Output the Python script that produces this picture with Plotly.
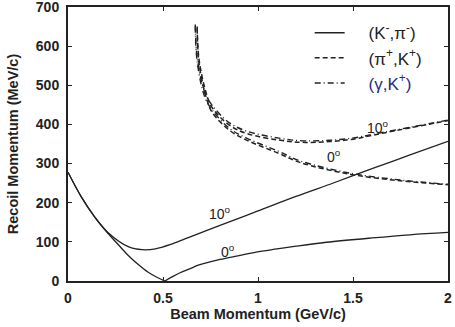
import plotly.graph_objects as go

# (K-,pi-) solid curves, 0 deg split at the zero crossing
kpi_0a_x = [0, 0.07, 0.14, 0.21, 0.27, 0.32, 0.37, 0.42, 0.47, 0.51]
kpi_0a_y = [278, 215, 164, 122, 90, 64, 42, 23, 9, 0]
kpi_0b_x = [0.51, 0.55, 0.59, 0.64, 0.69, 0.8, 0.9, 0.99, 1.1, 1.2, 1.36, 1.6, 1.8, 2.0]
kpi_0b_y = [0, 11, 21, 31, 41, 55, 65, 74, 82, 89, 99, 110, 118, 124]
kpi_10_x = [0, 0.07, 0.14, 0.21, 0.32, 0.39, 0.46, 0.55, 0.64, 0.8, 1.0, 1.2, 1.4, 1.6, 1.8, 2.0]
kpi_10_y = [278, 215, 164, 124, 87, 80, 82, 95, 112, 142, 179, 216, 251, 287, 322, 357]

# (pi+,K+) dashed curves
pik_10_x = [0.68, 0.69, 0.73, 0.76, 0.85, 0.94, 1.11, 1.25, 1.48, 1.66, 2.0]
pik_10_y = [650, 565, 476, 442, 398, 377, 360, 354, 361, 378, 410]
pik_0_x = [0.68, 0.69, 0.73, 0.76, 0.85, 0.94, 1.11, 1.22, 1.48, 1.75, 2.0]
pik_0_y = [645, 555, 465, 430, 385, 360, 326, 303, 273, 256, 246]

# (gamma,K+) dash-dot curves
gk_10_x = [0.67, 0.68, 0.72, 0.76, 0.85, 0.94, 1.11, 1.25, 1.48, 1.66, 2.0]
gk_10_y = [655, 570, 482, 448, 404, 383, 365, 358, 364, 380, 411]
gk_0_x = [0.67, 0.68, 0.72, 0.76, 0.85, 0.94, 1.11, 1.22, 1.48, 1.75, 2.0]
gk_0_y = [650, 560, 470, 436, 390, 365, 331, 307, 276, 258, 247]

labels = ["(K<sup>-</sup>,π<sup>-</sup>)", "(π<sup>+</sup>,K<sup>+</sup>)", "(γ,K<sup>+</sup>)"]
pad = "&nbsp;&nbsp;&nbsp;&nbsp;"

fig = go.Figure()
lw = 1.3
solid = dict(color="#222", width=lw, shape="spline")
dashed = dict(color="#222", width=1.5, dash="5px,3px", shape="spline")
dashdot = dict(color="#222", width=1.4, dash="6px,3px,1px,3px", shape="spline")

fig.add_trace(go.Scatter(x=kpi_0a_x, y=kpi_0a_y, mode="lines", line=solid, name=pad + labels[0], legendgroup="a"))
fig.add_trace(go.Scatter(x=kpi_0b_x, y=kpi_0b_y, mode="lines", line=solid, showlegend=False, legendgroup="a"))
fig.add_trace(go.Scatter(x=kpi_10_x, y=kpi_10_y, mode="lines", line=solid, showlegend=False, legendgroup="a"))
fig.add_trace(go.Scatter(x=pik_0_x, y=pik_0_y, mode="lines", line=dashed, name=pad + labels[1], legendgroup="b"))
fig.add_trace(go.Scatter(x=pik_10_x, y=pik_10_y, mode="lines", line=dashed, showlegend=False, legendgroup="b"))
fig.add_trace(go.Scatter(x=gk_0_x, y=gk_0_y, mode="lines", line=dashdot,
                         name=pad + "<span style='color:#2a2a80'>" + labels[2] + "</span>", legendgroup="c"))
fig.add_trace(go.Scatter(x=gk_10_x, y=gk_10_y, mode="lines", line=dashdot, showlegend=False, legendgroup="c"))

ann_font = dict(family="Liberation Sans Narrow, Liberation Sans, Arial", size=14, color="#222")
for x, y, t in [(1.63, 394, "10<sup>o</sup>"), (1.40, 320, "0<sup>o</sup>"),
                (0.80, 175, "10<sup>o</sup>"), (0.84, 77, "0<sup>o</sup>")]:
    fig.add_annotation(x=x, y=y, text=t, showarrow=False, font=ann_font)

axis_common = dict(showline=True, linewidth=2, linecolor="#222", mirror="ticks", ticks="inside",
                   ticklen=4, tickwidth=1, tickcolor="#222", showgrid=False, zeroline=False,
                   automargin=False, ticklabeloverflow="allow",
                   tickfont=dict(family="Liberation Sans, Arial", size=14, color="#222", weight="bold"))
title_font = dict(family="Liberation Sans, Arial", size=14.5, color="#222", weight="bold")

fig.update_xaxes(range=[0, 2], tickvals=[0, 0.5, 1, 1.5, 2], ticktext=["0", "0.5", "1", "1.5", "2"],
                 ticklabelstandoff=3,
                 title=dict(text="Beam Momentum (GeV/c)", standoff=4, font=title_font),
                 **axis_common)
fig.update_yaxes(range=[0, 700], dtick=100, ticklabelstandoff=4,
                 title=dict(text="Recoil Momentum (MeV/c)", standoff=14, font=title_font),
                 **axis_common)

fig.update_layout(
    width=455, height=327,
    margin=dict(l=68, r=7, t=7, b=46),
    plot_bgcolor="white", paper_bgcolor="white",
    legend=dict(x=0.636, y=0.97, xanchor="left", yanchor="top", bgcolor="rgba(0,0,0,0)",
                font=dict(family="Liberation Sans, Arial", size=17, color="#222"),
                tracegroupgap=0),
)

fig.write_html("out.html", config={"displayModeBar": False},
               post_script="document.body.style.margin='0';")
